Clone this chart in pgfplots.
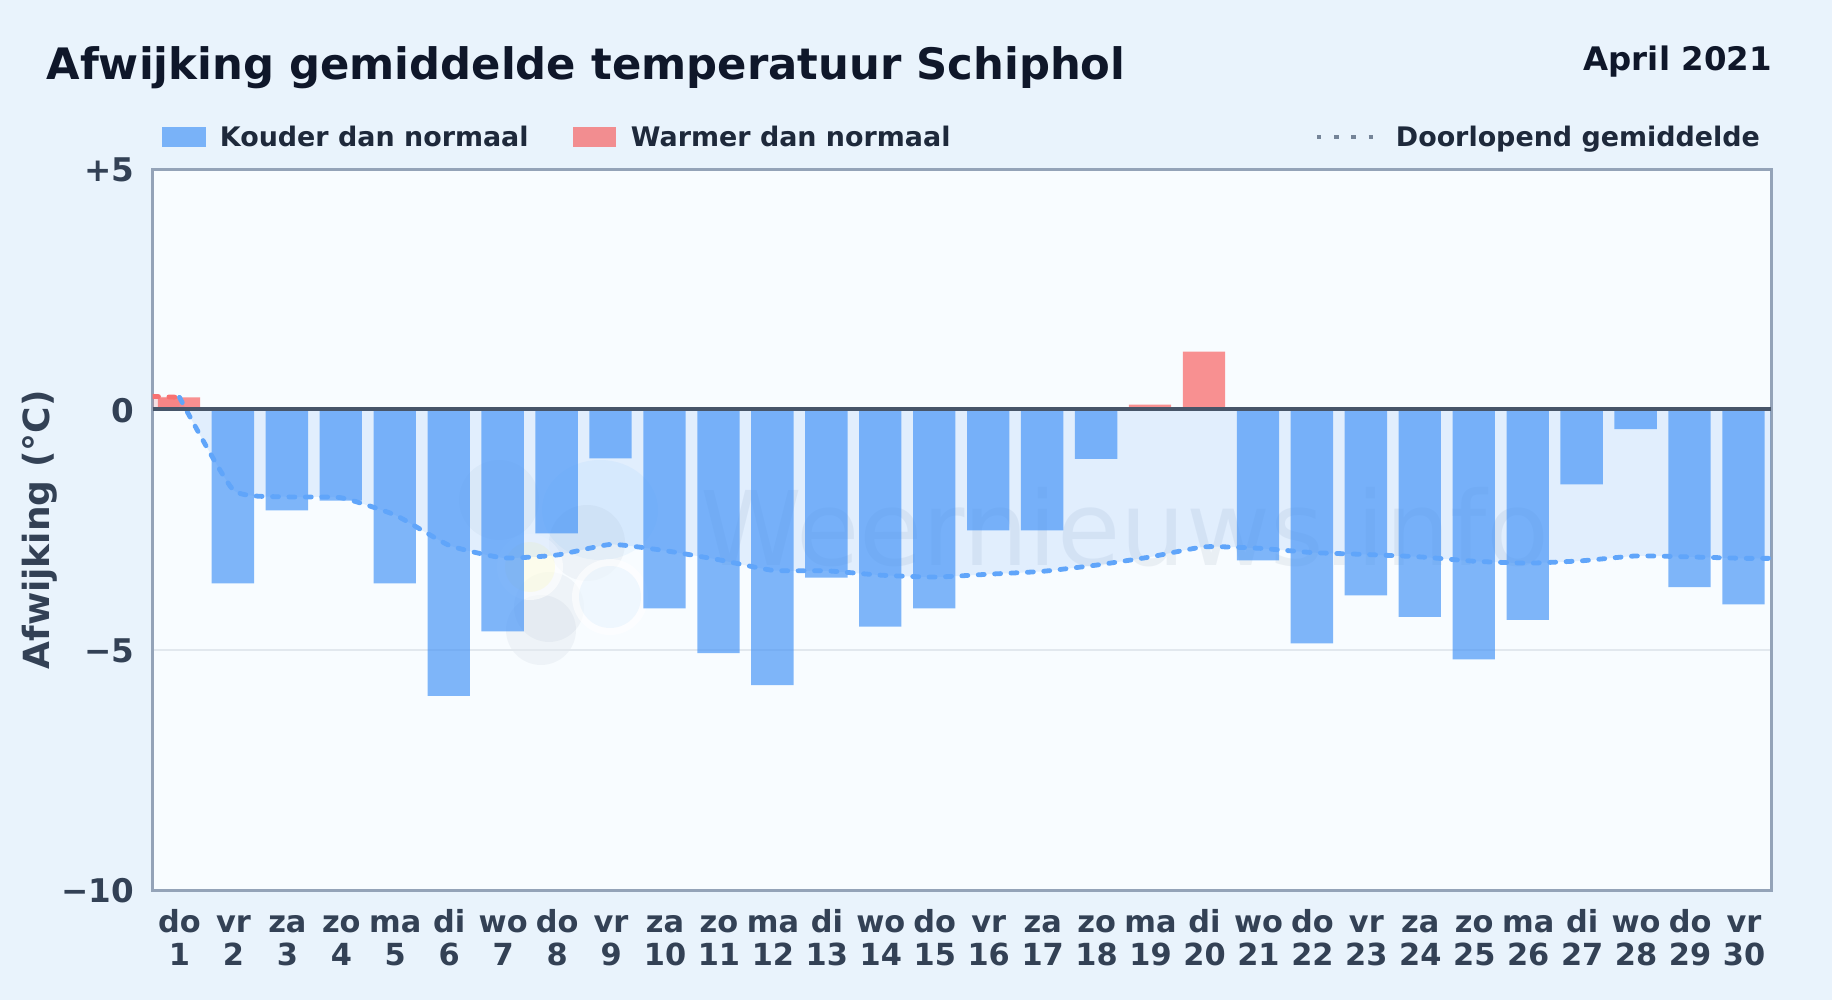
\documentclass[border=0pt]{standalone}
\usepackage{pgfplots}
\pgfplotsset{compat=1.18}
\usepackage{fontspec}
\setmainfont{DejaVu Sans}
\definecolor{pagebg}{HTML}{E9F3FC}
\definecolor{plotbg}{HTML}{F8FCFF}
\definecolor{framec}{HTML}{94A3B8}
\definecolor{gridc}{HTML}{E2E8EE}
\definecolor{titlec}{HTML}{0F172A}
\definecolor{legc}{HTML}{1E293B}
\definecolor{tickc}{HTML}{334155}
\definecolor{zeroc}{HTML}{475569}
\definecolor{barblue}{HTML}{3E90F7}
\definecolor{barred}{HTML}{F84949}
\definecolor{lineblue}{HTML}{60A5FA}
\definecolor{linered}{HTML}{F87171}
\definecolor{fillblue}{HTML}{3B8CF6}
\definecolor{fillred}{HTML}{EF4444}
\definecolor{logog}{HTML}{94A3B8}
\definecolor{logob}{HTML}{60B5FA}
\newcommand\lab[2]{\rule{0pt}{11.6pt}#1\\#2}
\begin{document}
\begin{tikzpicture}
\begin{scope}[x=0.5pt,y=-0.5pt]
\path[use as bounding box,fill=pagebg] (0,0) rectangle (1832,1000);
\fill[plotbg] (152.5,169) rectangle (1771,890);
\node[anchor=base west,font=\bfseries\fontsize{21.66}{24}\selectfont,text=titlec,inner sep=0pt] at (46.2,80) {Afwijking gemiddelde temperatuur Schiphol};
\node[anchor=base east,font=\bfseries\fontsize{16.2}{18}\selectfont,text=titlec,inner sep=0pt] at (1772,70.6) {April 2021};
\fill[barblue,opacity=0.65] (162,127.5) rectangle (206,147);
\node[anchor=base west,font=\bfseries\fontsize{13.46}{16}\selectfont,text=legc,inner sep=0pt] at (219.5,146.4) {Kouder dan normaal};
\fill[barred,opacity=0.6] (572.5,127.5) rectangle (616,147);
\node[anchor=base west,font=\bfseries\fontsize{13.46}{16}\selectfont,text=legc,inner sep=0pt] at (630.5,146.4) {Warmer dan normaal};
\draw[framec!60!zeroc,line width=2.2pt,dash pattern=on 2.2pt off 6.4pt] (1317,137) -- (1375,137);
\node[anchor=base west,font=\bfseries\fontsize{13.46}{16}\selectfont,text=legc,inner sep=0pt] at (1395.5,146.4) {Doorlopend gemiddelde};
\node[rotate=90,font=\bfseries\fontsize{18}{21}\selectfont,text=tickc,inner sep=0pt] at (39.5,530) {Afwijking (°C)};
% watermark
\fill[logob,opacity=0.08] (600,510) ellipse (58 and 50);
\fill[logog,opacity=0.08] (499,500) circle (40);
\fill[logog,opacity=0.09] (587,543) circle (38);
\fill[logog,opacity=0.09] (549,607) circle (35);
\fill[logog,opacity=0.09] (541,630) circle (35);
\fill[white,opacity=0.6] (530,567) circle (33);
\fill[yellow!60!white,opacity=0.12] (530,567) circle (25);
\fill[white,opacity=0.6] (610,597) circle (38);
\fill[logob,opacity=0.08] (610,597) circle (31);
\node[anchor=base west,font=\fontsize{51.5}{55}\selectfont,text=logog,opacity=0.14,inner sep=0pt] at (700,565) {Weernieuws.info};
\end{scope}
\begin{axis}[
  at={(76.25pt,-445pt)},anchor=south west,
  scale only axis,width=809.25pt,height=360.5pt,
  xmin=0.5,xmax=30.5,ymin=-10,ymax=5,
  xtick={1,...,30},
  xticklabels={\lab{do}{1},\lab{vr}{2},\lab{za}{3},\lab{zo}{4},\lab{ma}{5},\lab{di}{6},\lab{wo}{7},\lab{do}{8},\lab{vr}{9},\lab{za}{10},\lab{zo}{11},\lab{ma}{12},\lab{di}{13},\lab{wo}{14},\lab{do}{15},\lab{vr}{16},\lab{za}{17},\lab{zo}{18},\lab{ma}{19},\lab{di}{20},\lab{wo}{21},\lab{do}{22},\lab{vr}{23},\lab{za}{24},\lab{zo}{25},\lab{ma}{26},\lab{di}{27},\lab{wo}{28},\lab{do}{29},\lab{vr}{30}},
  ytick={-10,-5,0,5},
  yticklabels={−10,−5,0,+5},
  major tick length=0pt,
  x tick label style={align=center,font=\bfseries\fontsize{15.2}{16.6}\selectfont,text=tickc,inner sep=0pt,yshift=-9.5pt},
  y tick label style={font=\bfseries\fontsize{16.3}{18}\selectfont,text=tickc,inner sep=0pt,xshift=-9pt,yshift=-0.5pt},
  ymajorgrids,
  grid style={gridc,line width=0.9pt},
  axis line style={framec,line width=1.5pt},
  clip=true,
]
\addplot[draw=none,fill=fillred,fill opacity=0.15,smooth,tension=0.3] coordinates {(0.5,0.27) (1,0.25)} \closedcycle;
\addplot[draw=none,fill=fillblue,fill opacity=0.12,smooth,tension=0.3] coordinates {
(1,0.25)(2,-1.68)(3,-1.82)(4,-1.84)(5,-2.2)(6,-2.83)(7,-3.09)(8,-3.03)(9,-2.81)(10,-2.94)
(11,-3.13)(12,-3.35)(13,-3.36)(14,-3.45)(15,-3.49)(16,-3.43)(17,-3.37)(18,-3.24)(19,-3.07)(20,-2.86)
(21,-2.89)(22,-2.98)(23,-3.02)(24,-3.07)(25,-3.16)(26,-3.2)(27,-3.15)(28,-3.05)(29,-3.07)(30,-3.1)(30.5,-3.1)} \closedcycle;
\addplot[ybar,bar width=0.785,bar shift=-0.01,draw=none,fill=barblue,fill opacity=0.65] coordinates {
(2,-3.62)(3,-2.1)(4,-1.9)(5,-3.62)(6,-5.96)(7,-4.62)(8,-2.58)(9,-1.02)(10,-4.14)
(11,-5.07)(12,-5.74)(13,-3.5)(14,-4.52)(15,-4.14)(16,-2.52)(17,-2.52)(18,-1.03)
(21,-3.14)(22,-4.87)(23,-3.87)(24,-4.32)(25,-5.2)(26,-4.38)(27,-1.56)(28,-0.41)(29,-3.7)(30,-4.06)};
\addplot[ybar,bar width=0.785,bar shift=-0.01,draw=none,fill=barred,fill opacity=0.6] coordinates {(1,0.25)(19,0.1)(20,1.2)};
\addplot[linered,line width=2.4pt,line cap=round,dash pattern=on 3pt off 5.2pt,smooth,tension=0.3] coordinates {(0.5,0.27)(1,0.25)};
\addplot[lineblue,line width=2.4pt,line cap=round,dash pattern=on 3pt off 5.2pt,smooth,tension=0.3] coordinates {
(1,0.25)(2,-1.68)(3,-1.82)(4,-1.84)(5,-2.2)(6,-2.83)(7,-3.09)(8,-3.03)(9,-2.81)(10,-2.94)
(11,-3.13)(12,-3.35)(13,-3.36)(14,-3.45)(15,-3.49)(16,-3.43)(17,-3.37)(18,-3.24)(19,-3.07)(20,-2.86)
(21,-2.89)(22,-2.98)(23,-3.02)(24,-3.07)(25,-3.16)(26,-3.2)(27,-3.15)(28,-3.05)(29,-3.07)(30,-3.1)(30.5,-3.1)};
\addplot[zeroc,line width=1.9pt] coordinates {(0.5,0)(30.5,0)};
\end{axis}
\end{tikzpicture}
\end{document}
